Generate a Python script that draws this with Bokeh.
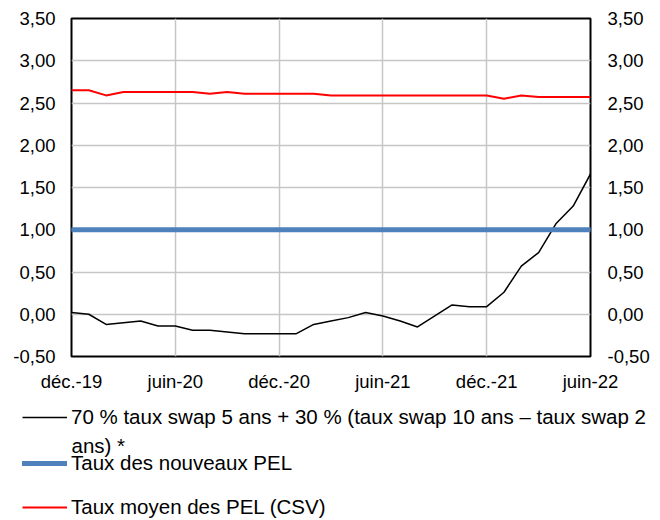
from bokeh.plotting import figure
from bokeh.layouts import column, row
from bokeh.models import (Range1d, LinearAxis, FixedTicker, Legend, LegendItem, Label)
from bokeh.embed import file_html
from bokeh.resources import INLINE

months = ["2019-12", "2020-01", "2020-02", "2020-03", "2020-04", "2020-05", "2020-06",
          "2020-07", "2020-08", "2020-09", "2020-10", "2020-11", "2020-12",
          "2021-01", "2021-02", "2021-03", "2021-04", "2021-05", "2021-06",
          "2021-07", "2021-08", "2021-09", "2021-10", "2021-11", "2021-12",
          "2022-01", "2022-02", "2022-03", "2022-04", "2022-05", "2022-06"]

swap_formula = [0.02, 0.00, -0.12, -0.10, -0.08, -0.14, -0.14,
                -0.19, -0.19, -0.21, -0.23, -0.23, -0.23,
                -0.23, -0.12, -0.08, -0.04, 0.02, -0.02,
                -0.08, -0.15, -0.02, 0.11, 0.09, 0.09,
                0.26, 0.57, 0.73, 1.07, 1.28, 1.66]

taux_nouveaux_pel = [1.00, 1.00, 1.00, 1.00, 1.00, 1.00, 1.00,
                     1.00, 1.00, 1.00, 1.00, 1.00, 1.00,
                     1.00, 1.00, 1.00, 1.00, 1.00, 1.00,
                     1.00, 1.00, 1.00, 1.00, 1.00, 1.00,
                     1.00, 1.00, 1.00, 1.00, 1.00, 1.00]

taux_moyen_pel = [2.65, 2.65, 2.59, 2.63, 2.63, 2.63, 2.63,
                  2.63, 2.61, 2.63, 2.61, 2.61, 2.61,
                  2.61, 2.61, 2.59, 2.59, 2.59, 2.59,
                  2.59, 2.59, 2.59, 2.59, 2.59, 2.59,
                  2.55, 2.59, 2.57, 2.57, 2.57, 2.57]

x_tick_pos = [0, 6, 12, 18, 24, 30]
x_tick_labels = ["déc.-19", "juin-20", "déc.-20", "juin-21", "déc.-21", "juin-22"]

y_ticks = [-0.5, 0.0, 0.5, 1.0, 1.5, 2.0, 2.5, 3.0, 3.5]
y_tick_labels = ["-0,50", "0,00", "0,50", "1,00", "1,50", "2,00", "2,50", "3,00", "3,50"]

legend_labels = ["70 % taux swap 5 ans + 30 % (taux swap 10 ans – taux swap 2",
                 "Taux des nouveaux PEL",
                 "Taux moyen des PEL (CSV)"]
legend_label_cont = "ans) *"

FONT = "Liberation Sans"
W = 660
H_MAIN = 400
H_LEG = 120

BLACK = dict(line_color="black", line_width=1.5)
BLUE = dict(line_color="#4F81BD", line_width=5, line_cap="round")
RED = dict(line_color="#FF0000", line_width=2)

x = list(range(len(months)))

p = figure(width=W, height=H_MAIN, output_backend="svg", toolbar_location=None,
           x_range=Range1d(0, len(months) - 1), y_range=Range1d(-0.5, 3.5),
           min_border_left=71, min_border_right=70, min_border_top=18,
           min_border_bottom=44)

p.outline_line_color = "black"
p.outline_line_width = 2
p.background_fill_color = "white"
p.border_fill_color = "white"

p.xgrid.ticker = FixedTicker(ticks=x_tick_pos)
p.ygrid.ticker = FixedTicker(ticks=y_ticks)
for g in (p.xgrid, p.ygrid):
    g.grid_line_color = "#C6C6C6"
    g.grid_line_width = 1.5

xa = p.xaxis[0]
xa.ticker = FixedTicker(ticks=x_tick_pos)
xa.major_label_overrides = {t: l for t, l in zip(x_tick_pos, x_tick_labels)}

ya = p.yaxis[0]
ya.ticker = FixedTicker(ticks=y_ticks)
ya.major_label_overrides = {t: l for t, l in zip(y_ticks, y_tick_labels)}

yr = LinearAxis(ticker=FixedTicker(ticks=y_ticks))
yr.major_label_overrides = {t: l for t, l in zip(y_ticks, y_tick_labels)}
p.add_layout(yr, "right")

for ax in (xa, ya, yr):
    ax.axis_line_color = None
    ax.major_tick_line_color = None
    ax.minor_tick_line_color = None
    ax.major_tick_out = 0
    ax.major_tick_in = 0
    ax.major_label_text_font = FONT
    ax.major_label_text_font_size = "18.5px"
    ax.major_label_text_color = "black"
xa.major_label_standoff = 14
ya.major_label_standoff = 16
yr.major_label_standoff = 17

p.line(x, swap_formula, **BLACK)
p.line(x, taux_nouveaux_pel, **BLUE)
p.line(x, taux_moyen_pel, **RED)

# legend panel: a separate plot whose frame spans the whole width;
# its ranges exclude the data so the proxy series only feed the legend glyphs
q = figure(width=W, height=H_LEG, output_backend="svg", toolbar_location=None,
           x_range=Range1d(1000, 1001), y_range=Range1d(1000, 1001),
           x_axis_type=None, y_axis_type=None, min_border=0)
q.outline_line_color = None
q.xgrid.visible = False
q.ygrid.visible = False
q.background_fill_color = "white"
q.border_fill_color = "white"

k_black = q.line(x, swap_formula, **BLACK)
k_blue = q.line(x, taux_nouveaux_pel, **BLUE)
k_red = q.line(x, taux_moyen_pel, **RED)

LEG_X = 22
GLYPH_W = 45
STANDOFF = 4
ITEM_H = 26

def make_legend(label, rend, bottom):
    return Legend(items=[LegendItem(label=label, renderers=[rend])],
                  location=(LEG_X, bottom),
                  padding=0, margin=0, spacing=0, border_line_color=None,
                  background_fill_alpha=0, glyph_width=GLYPH_W, glyph_height=ITEM_H,
                  label_standoff=STANDOFF, label_height=ITEM_H,
                  label_text_font=FONT, label_text_font_size="20.5px",
                  label_text_color="black")

q.add_layout(make_legend(legend_labels[0], k_black, 90))
q.add_layout(make_legend(legend_labels[1], k_blue, 44))
q.add_layout(make_legend(legend_labels[2], k_red, 0))

q.add_layout(Label(x=LEG_X + GLYPH_W + STANDOFF, y=75, x_units="screen", y_units="screen",
                   text=legend_label_cont, text_font=FONT, text_font_size="20.5px",
                   text_color="black", text_baseline="middle", text_align="left"))

open("out.html", "w").write(file_html(column(row(p), row(q), spacing=0), INLINE))
